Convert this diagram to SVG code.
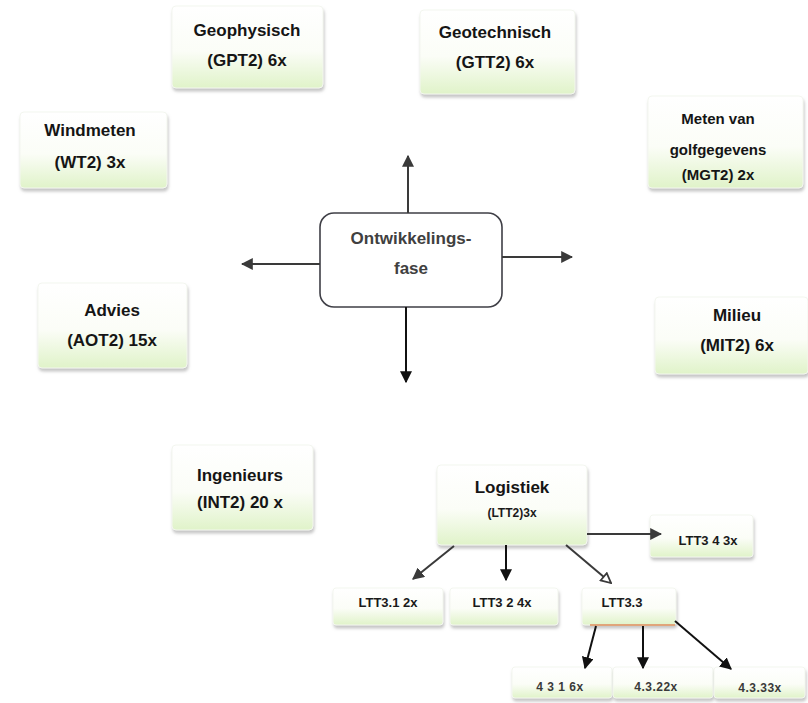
<svg xmlns="http://www.w3.org/2000/svg" width="808" height="703" viewBox="0 0 808 703">
<defs>
<linearGradient id="g" x1="0" y1="0" x2="0" y2="1">
<stop offset="0" stop-color="#ffffff"/>
<stop offset="0.55" stop-color="#fbfdf7"/>
<stop offset="1" stop-color="#e0f3c9"/>
</linearGradient>
<filter id="sh" x="-10%" y="-10%" width="120%" height="130%">
<feDropShadow dx="1" dy="3" stdDeviation="1.8" flood-color="#a0a0a0" flood-opacity="0.6"/>
</filter>
<marker id="ah" viewBox="0 0 10 10" refX="9" refY="5" markerWidth="6" markerHeight="6" orient="auto">
<path d="M0,0 L10,5 L0,10 z" fill="#3a3a3a"/>
</marker>
<marker id="ahb" viewBox="0 0 10 10" refX="9" refY="5" markerWidth="6" markerHeight="6" orient="auto">
<path d="M0,0 L10,5 L0,10 z" fill="#111"/>
</marker>
<marker id="aho" viewBox="0 0 10 10" refX="9" refY="5" markerWidth="6" markerHeight="6" orient="auto">
<path d="M1,1 L9,5 L1,9 z" fill="#fff" stroke="#3a3a3a" stroke-width="1.5"/>
</marker>
</defs>
<style>
.box{fill:url(#g);stroke:#f3f6ef;stroke-width:1;filter:url(#sh)}
.t{font-family:"Liberation Sans",Arial,sans-serif;font-weight:bold;font-size:17px;fill:#151515;text-anchor:middle}
.s{font-family:"Liberation Sans",Arial,sans-serif;font-weight:bold;font-size:13px;fill:#1a1a1a;text-anchor:middle}
.xs{font-family:"Liberation Sans",Arial,sans-serif;font-weight:bold;font-size:12px;fill:#3a3a3a;text-anchor:middle;letter-spacing:0.5px}
.c{stroke:#3a3a3a;stroke-width:2;fill:none;marker-end:url(#ah)}
.cb{stroke:#111;stroke-width:2;fill:none;marker-end:url(#ahb)}
</style>
<rect width="808" height="703" fill="#ffffff"/>

<g id="geophysisch">
<rect class="box" x="172" y="6" width="151" height="82" rx="4"/>
<text class="t" x="247" y="36">Geophysisch</text>
<text class="t" x="247" y="66">(GPT2) 6x</text>
</g>
<g id="geotechnisch">
<rect class="box" x="420" y="10" width="155" height="84" rx="4"/>
<text class="t" x="495" y="38">Geotechnisch</text>
<text class="t" x="495" y="68">(GTT2) 6x</text>
</g>
<g id="windmeten">
<rect class="box" x="20" y="112" width="147" height="76" rx="4"/>
<text class="t" x="90" y="136">Windmeten</text>
<text class="t" x="90" y="168">(WT2) 3x</text>
</g>
<g id="meten">
<rect class="box" x="648" y="96" width="155" height="92" rx="4"/>
<text class="t" x="718" y="124" style="font-size:15px">Meten van</text>
<text class="t" x="718" y="155" style="font-size:15px">golfgegevens</text>
<text class="t" x="718" y="180" style="font-size:15px">(MGT2) 2x</text>
</g>
<g id="advies">
<rect class="box" x="38" y="283" width="149" height="85" rx="4"/>
<text class="t" x="112" y="316">Advies</text>
<text class="t" x="112" y="346">(AOT2) 15x</text>
</g>
<g id="milieu">
<rect class="box" x="655" y="297" width="153" height="77" rx="4"/>
<text class="t" x="737" y="321">Milieu</text>
<text class="t" x="737" y="351">(MIT2) 6x</text>
</g>
<g id="ingenieurs">
<rect class="box" x="172" y="445" width="141" height="85" rx="4"/>
<text class="t" x="240" y="481">Ingenieurs</text>
<text class="t" x="240" y="508">(INT2) 20 x</text>
</g>
<g id="ontwikkelingsfase">
<rect x="320" y="213" width="182" height="94" rx="14" fill="#ffffff" stroke="#3f3f46" stroke-width="1.6"/>
<text class="t" x="411" y="244" style="fill:#404040">Ontwikkelings-</text>
<text class="t" x="411" y="274" style="fill:#404040">fase</text>
</g>
<g id="logistiek">
<rect class="box" x="437" y="465" width="150" height="80" rx="4"/>
<text class="t" x="512" y="493">Logistiek</text>
<text class="s" x="512" y="517" style="font-size:12px">(LTT2)3x</text>
</g>
<g id="ltt34">
<rect class="box" x="650" y="515" width="103" height="42" rx="3"/>
<text class="s" x="708" y="545">LTT3 4 3x</text>
</g>
<g id="ltt31">
<rect class="box" x="333" y="588" width="110" height="37" rx="3"/>
<text class="s" x="388" y="607">LTT3.1 2x</text>
</g>
<g id="ltt32">
<rect class="box" x="450" y="588" width="108" height="37" rx="3"/>
<text class="s" x="502" y="607">LTT3 2 4x</text>
</g>
<g id="ltt33">
<rect class="box" x="582" y="588" width="94" height="37" rx="3"/>
<line x1="590" y1="625" x2="675" y2="625" stroke="#e0a57a" stroke-width="2"/>
<text class="s" x="622" y="607">LTT3.3</text>
</g>
<g id="b431">
<rect class="box" x="512" y="667" width="100" height="31" rx="3"/>
<text class="xs" x="560" y="691">4 3 1 6x</text>
</g>
<g id="b432">
<rect class="box" x="613" y="667" width="100" height="31" rx="3"/>
<text class="xs" x="656" y="691">4.3.22x</text>
</g>
<g id="b433">
<rect class="box" x="714" y="667" width="91" height="31" rx="3"/>
<text class="xs" x="760" y="692">4.3.33x</text>
</g>

<g id="connectors">
<line class="c" x1="408" y1="213" x2="408" y2="156"/>
<line class="c" x1="320" y1="264" x2="242" y2="264"/>
<line class="c" x1="502" y1="257" x2="572" y2="257"/>
<line class="cb" x1="406" y1="307" x2="406" y2="382"/>
<line class="c" x1="587" y1="534" x2="661" y2="534"/>
<line class="c" x1="454" y1="546" x2="413" y2="579"/>
<line class="cb" x1="506" y1="545" x2="506" y2="580"/>
<line stroke="#3a3a3a" stroke-width="2" fill="none" marker-end="url(#aho)" x1="566" y1="545" x2="611" y2="583"/>
<line class="cb" x1="596" y1="626" x2="585" y2="668"/>
<line class="cb" x1="643" y1="626" x2="643" y2="668"/>
<line class="cb" x1="675" y1="621" x2="731" y2="669"/>
</g>
</svg>
